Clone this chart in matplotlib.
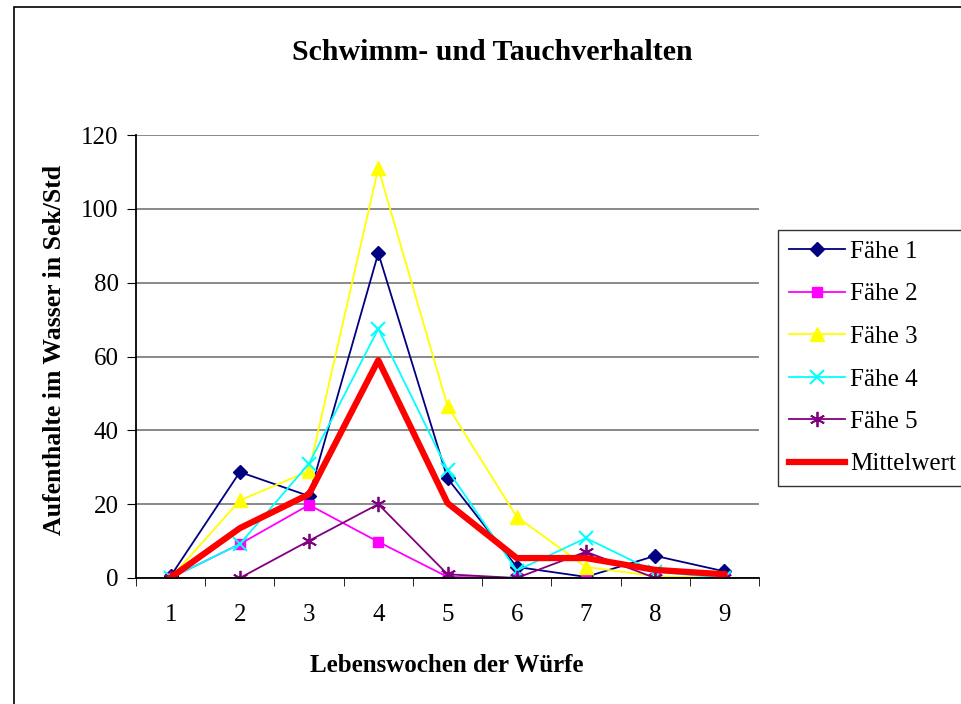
import matplotlib
matplotlib.use("Agg")
import matplotlib.pyplot as plt
from matplotlib.patches import Rectangle

# Lebenswochen
wochen = [1, 2, 3, 4, 5, 6, 7, 8, 9]

faehe1 = [0.5, 28.7, 22.2, 88.0, 27.0, 3.0, 0.3, 6.0, 1.8]
faehe2 = [0.0, 9.2, 19.8, 9.8, 0.3, 0.0, 0.0, 0.0, 0.0]
faehe3 = [0.0, 21.0, 29.0, 111.0, 46.6, 16.6, 3.0, 0.5, 0.0]
faehe4 = [0.0, 9.2, 31.0, 67.5, 29.3, 2.0, 10.8, 1.7, 0.0]
faehe5 = [0.0, 0.0, 10.1, 20.0, 1.0, 0.0, 7.1, 0.0, 0.0]
mittelwert = [0.1, 13.5, 22.7, 59.0, 20.3, 5.4, 5.4, 2.2, 1.0]

plt.rcParams['font.family'] = ['Liberation Serif', 'DejaVu Serif']

fig = plt.figure(figsize=(9.61, 7.04), dpi=100)
ax = fig.add_axes([136/961, 1 - 578/704, 623/961, 443/704])

ax.plot(wochen, faehe1, color='#000080', marker='D', markersize=7.5, lw=1.3, label='Fähe 1')
ax.plot(wochen, faehe2, color='#FF00FF', marker='s', markersize=7.5, lw=1.3, label='Fähe 2')
ax.plot(wochen, faehe3, color='#FFFF00', marker='^', markersize=10, lw=1.3, label='Fähe 3')
ax.plot(wochen, faehe4, color='#00FFFF', marker='x', markersize=10, mew=1.5, lw=1.3, label='Fähe 4')
ax.plot(wochen, faehe5, color='#800080', marker=(6, 2, 0), markersize=11, mew=1.3, lw=1.3, label='Fähe 5')
ax.plot(wochen, mittelwert, color='#FF0000', lw=4.5, label='Mittelwert')

ax.set_xlim(0.5, 9.5)
ax.set_ylim(0, 120)
ax.set_yticks(range(0, 121, 20))
ax.set_xticks(wochen)
ax.set_xticks([w + 0.5 for w in [0] + wochen], minor=True)
ax.tick_params(axis='x', which='major', length=0, pad=19, labelsize=18)
ax.tick_params(axis='x', which='minor', length=6, direction='out')
ax.tick_params(axis='y', length=6.5, direction='out', labelsize=18, pad=6)
ax.yaxis.grid(True, color='#808080', lw=1.3)
ax.set_axisbelow(True)
for s in ['top', 'right']:
    ax.spines[s].set_visible(False)
ax.spines['left'].set_linewidth(1.3)
ax.spines['bottom'].set_linewidth(1.3)

fig.text(492/961, 1 - 53/704, 'Schwimm- und Tauchverhalten', fontsize=21.5,
         fontweight='bold', ha='center', va='center')
fig.text(447/961, 1 - 665/704, 'Lebenswochen der Würfe', fontsize=18,
         fontweight='bold', ha='center', va='center')
fig.text(55/961, 1 - 350/704, 'Aufenthalte im Wasser in Sek/Std', fontsize=18.5,
         fontweight='bold', ha='center', va='center', rotation=90)

leg = fig.legend(loc='upper left', bbox_to_anchor=(778/961, 1 - 230/704), fontsize=18,
                 frameon=True, fancybox=False, edgecolor='black', borderpad=0.42,
                 labelspacing=0.8, handlelength=2.25, handletextpad=0.2, borderaxespad=0)
leg.get_frame().set_linewidth(1.0)

fig.patches.append(Rectangle((14/961, -0.1), 1.2, 1 - 7/704 + 0.1, transform=fig.transFigure,
                             fill=False, edgecolor='black', lw=1.2))

fig.savefig('out.png', dpi=100)
